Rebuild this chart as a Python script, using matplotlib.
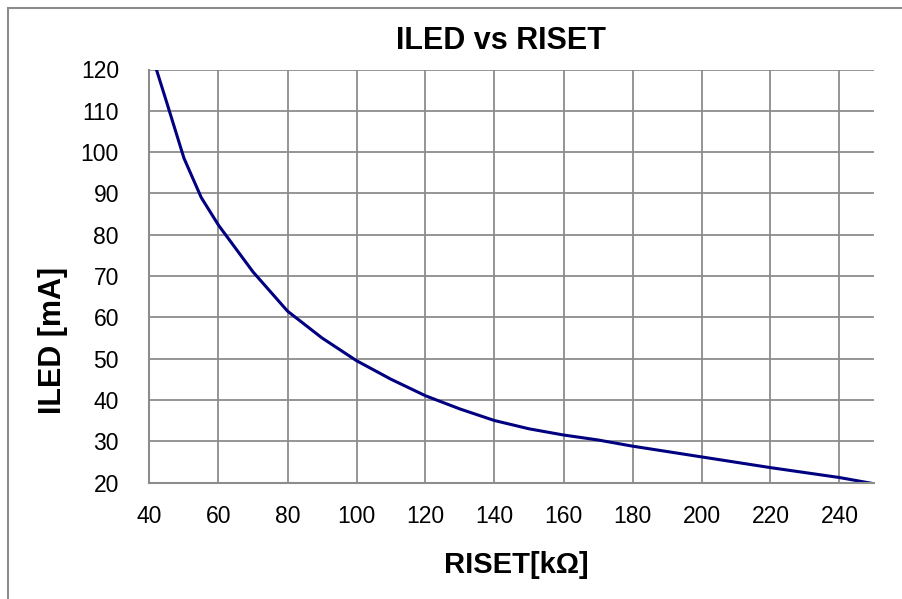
import matplotlib.pyplot as plt
from matplotlib.patches import Rectangle

plt.rcParams['font.family'] = ['Liberation Sans', 'DejaVu Sans']

riset = [42, 45, 50, 55, 60, 70, 80, 90, 100, 110, 120, 130, 140, 150, 160, 170,
         180, 200, 220, 240, 250]
iled = [120, 112, 98.5, 89, 82.3, 71, 61.5, 55, 49.5, 45, 41, 37.8, 35, 33, 31.5, 30.3,
        28.8, 26.2, 23.6, 21.2, 19.7]

xticks = list(range(40, 241, 20))
yticks = list(range(20, 121, 10))

W, H = 903, 599
fig = plt.figure(figsize=(W / 100, H / 100), dpi=100)
# outer chart border, runs off the right and bottom of the image
fig.patches.append(Rectangle((8 / W, -0.1), 1.2, 1.1 - 8 / H,
                             transform=fig.transFigure, fill=False,
                             edgecolor='#8c8c8c', linewidth=1.5))

ax = fig.add_axes([149.5 / W, 1 - 482.5 / H, (874 - 149.5) / W, (482.5 - 69.5) / H])
ax.plot(riset, iled, color='#000080', linewidth=2.2)
ax.set_xlim(40, 250)
ax.set_ylim(20, 120)
ax.set_xticks(xticks)
ax.set_yticks(yticks)
ax.grid(True, color='#8c8c8c', linewidth=1.3)
ax.set_axisbelow(True)
for s in ['top', 'right']:
    ax.spines[s].set_visible(False)
for s in ['left', 'bottom']:
    ax.spines[s].set_color('#8c8c8c')
    ax.spines[s].set_linewidth(1.5)
ax.tick_params(length=0, labelsize=16.5)
ax.tick_params(axis='y', pad=22)
ax.tick_params(axis='x', pad=16)

fig.text(501.5 / W, 1 - 49 / H, 'ILED vs RISET', fontsize=22, fontweight='bold',
         ha='center', va='baseline')
fig.text(516.5 / W, 1 - 573 / H, 'RISET[kΩ]', fontsize=21, fontweight='bold',
         ha='center', va='baseline')
fig.text(53 / W, 1 - 340 / H, 'ILED [mA]', fontsize=22, fontweight='bold',
         ha='center', va='center', rotation=90)

fig.savefig('out.png', dpi=100)
